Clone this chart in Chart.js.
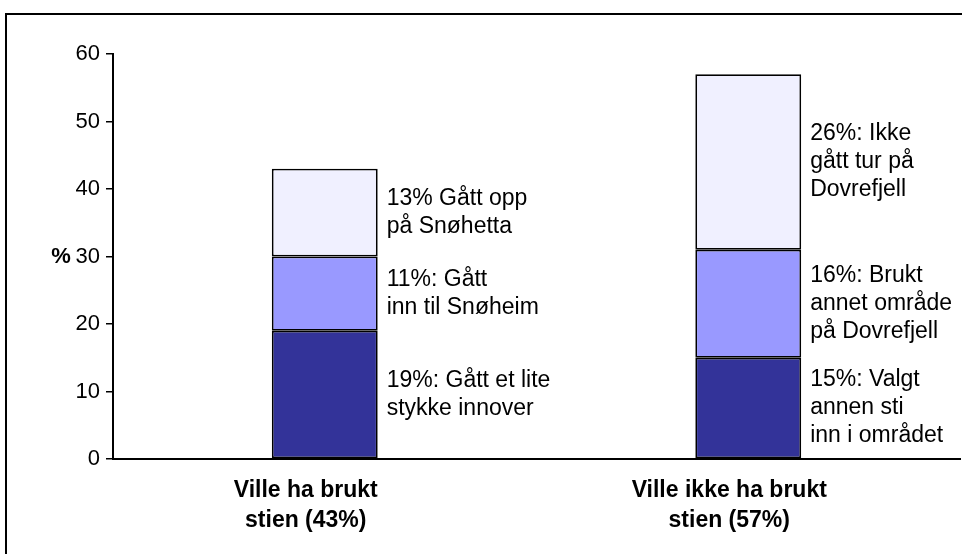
<!DOCTYPE html>
<html>
<head>
<meta charset="utf-8">
<script src="https://cdn.jsdelivr.net/npm/chart.js@4.4.0/dist/chart.umd.min.js"></script>
<style>
  html, body { margin: 0; padding: 0; background: #fff; }
  #wrap { width: 962px; height: 554px; position: relative; }
</style>
</head>
<body>
<div id="wrap"><canvas id="chart"></canvas></div>
<script>
const categories = [["Ville ha brukt", "stien (43%)"], ["Ville ikke ha brukt", "stien (57%)"]];
const lowerPart = [19, 15];
const middlePart = [11, 16];
const upperPart = [13, 26];
const lowerNotes = [["19%: Gått et lite", "stykke innover"], ["15%: Valgt", "annen sti", "inn i området"]];
const middleNotes = [["11%: Gått", "inn til Snøheim"], ["16%: Brukt", "annet område", "på Dovrefjell"]];
const upperNotes = [["13% Gått opp", "på Snøhetta"], ["26%: Ikke", "gått tur på", "Dovrefjell"]];
const yTicks = [0, 10, 20, 30, 40, 50, 60];

const FONT = '"Liberation Sans", Arial, sans-serif';
Chart.defaults.color = "#000";
Chart.defaults.font.family = FONT;

// frame, notes beside the bars and the "%" axis mark
const notesPlugin = {
  id: "notes",
  beforeDraw(chart) {
    const ctx = chart.ctx;
    ctx.save();
    ctx.strokeStyle = "#000";
    ctx.lineWidth = 2;
    ctx.strokeRect(6, 14, 1000, 1000);
    ctx.restore();
  },
  afterDatasetsDraw(chart) {
    const ctx = chart.ctx;
    const notes = [lowerNotes, middleNotes, upperNotes];
    ctx.save();
    ctx.fillStyle = "#000";
    ctx.font = "23px " + FONT;
    ctx.textAlign = "left";
    ctx.textBaseline = "middle";
    notes.forEach((set, i) => {
      chart.getDatasetMeta(i).data.forEach((bar, j) => {
        const lines = set[j];
        const mid = (bar.y + bar.base) / 2;
        const x = bar.x + bar.width / 2 + 9;
        lines.forEach((t, k) => {
          ctx.fillText(t, x, mid + (k - (lines.length - 1) / 2) * 28);
        });
      });
    });
    ctx.font = "bold 22px " + FONT;
    ctx.textAlign = "center";
    ctx.fillText("%", 61, chart.scales.y.getPixelForValue(30));
    ctx.restore();
  }
};

const segment = (data, color) => ({
  data: data,
  backgroundColor: color,
  borderColor: "#000",
  borderWidth: 1.8,
  borderSkipped: false,
  barPercentage: 0.25,
  categoryPercentage: 1
});

new Chart("chart", {
  type: "bar",
  data: {
    labels: categories,
    datasets: [
      segment(lowerPart, "#333399"),
      segment(middlePart, "#9999ff"),
      segment(upperPart, "#f0f0ff")
    ]
  },
  options: {
    responsive: true,
    maintainAspectRatio: false,
    animation: false,
    layout: { padding: { top: 54, right: 2, bottom: 0, left: 0 } },
    plugins: { legend: { display: false }, tooltip: { enabled: false } },
    scales: {
      x: {
        stacked: true,
        grid: { display: false, drawTicks: false },
        border: { display: true, color: "#000", width: 2 },
        ticks: {
          font: { size: 23, weight: "bold", lineHeight: 1.3 },
          padding: 17,
          labelOffset: -19,
          maxRotation: 0
        },
        afterFit(scale) { scale.height = 95; }
      },
      y: {
        stacked: true,
        min: 0,
        max: 60,
        grid: { drawOnChartArea: false, drawTicks: true, tickLength: 7, color: "#000", lineWidth: 1.5 },
        border: { display: true, color: "#000", width: 2 },
        ticks: { font: { size: 22 }, padding: 6 },
        afterBuildTicks(scale) { scale.ticks = yTicks.map(v => ({ value: v })); },
        afterFit(scale) { scale.width = 113; }
      }
    }
  },
  plugins: [notesPlugin]
});
</script>
</body>
</html>
